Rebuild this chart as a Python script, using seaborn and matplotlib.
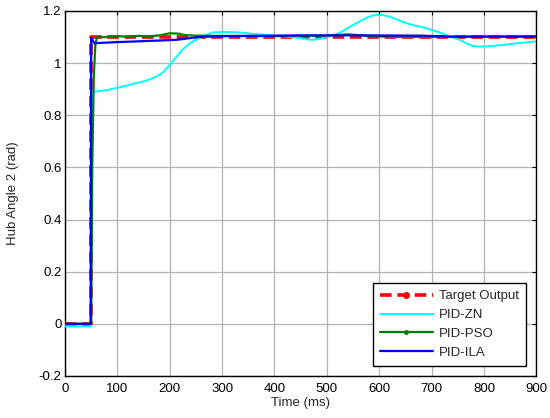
import numpy as np
import pandas as pd
import matplotlib
matplotlib.use("Agg")
import matplotlib.pyplot as plt
from matplotlib.lines import Line2D
import seaborn as sns

# Step reference
target_t = [0, 50, 50, 900]
target_y = [0.0, 0.0, 1.1, 1.1]

# Ziegler-Nichols tuned PID response
zn_t = [0, 49, 52, 60, 80, 97, 115, 130, 145, 160, 175, 185, 192, 205, 215,
        224, 240, 256, 270, 281, 300, 326, 345, 364, 400, 425, 447, 460, 472,
        488, 504, 517, 529, 545, 562, 578, 593, 606, 619, 635, 651, 670, 689,
        708, 727, 740, 753, 765, 778, 790, 804, 830, 855, 880, 900]
zn_y = [-0.01, -0.01, 0.89, 0.891, 0.896, 0.904, 0.912, 0.92, 0.927, 0.936,
        0.949, 0.961, 0.974, 1.006, 1.029, 1.051, 1.078, 1.095, 1.108, 1.117,
        1.119, 1.118, 1.115, 1.111, 1.105, 1.101, 1.096, 1.091, 1.089, 1.093,
        1.102, 1.11, 1.121, 1.14, 1.159, 1.176, 1.185, 1.184, 1.178, 1.166,
        1.153, 1.143, 1.134, 1.122, 1.108, 1.098, 1.089, 1.077, 1.066, 1.063,
        1.064, 1.068, 1.074, 1.079, 1.083]

# PSO tuned PID response
pso_t = [0, 50, 52, 55, 58, 61, 80, 100, 120, 140, 160, 180, 200, 215, 230,
         250, 300, 400, 500, 540, 580, 620, 700, 800, 900]
pso_y = [0.0, 0.0, 0.6, 0.95, 1.07, 1.098, 1.1, 1.103, 1.101, 1.104, 1.102,
         1.106, 1.114, 1.113, 1.107, 1.105, 1.104, 1.103, 1.105, 1.11, 1.104,
         1.1, 1.1, 1.102, 1.103]

# ILA tuned PID response
ila_t = [0, 49, 50, 56, 97, 150, 213, 256, 300, 450, 560, 680, 740, 900]
ila_y = [0.0, 0.0, 1.097, 1.076, 1.08, 1.084, 1.089, 1.1, 1.103, 1.106,
         1.106, 1.105, 1.101, 1.101]

x_ticks = [0, 100, 200, 300, 400, 500, 600, 700, 800, 900]
y_ticks = [-0.2, 0, 0.2, 0.4, 0.6, 0.8, 1, 1.2]
y_tick_labels = ["-0.2", "0", "0.2", "0.4", "0.6", "0.8", "1", "1.2"]

sns.set_style("white")
plt.rcParams["font.family"] = ["Liberation Sans", "DejaVu Sans"]

fig = plt.figure(figsize=(5.5, 4.18), dpi=100)
ax = fig.add_axes([0.1182, 0.1005, 0.857, 0.8735])

series = [
    ("PID-ZN", zn_t, zn_y, "#00ffff", "-", 1.4),
    ("PID-PSO", pso_t, pso_y, "#008000", "-", 1.6),
    ("PID-ILA", ila_t, ila_y, "#0000ff", "-", 1.6),
]

df_target = pd.DataFrame({"t": target_t, "y": target_y})
sns.lineplot(data=df_target, x="t", y="y", ax=ax, color="#ff0000",
             linestyle=(0, (3.2, 1.6)), linewidth=2.6, sort=False,
             estimator=None, zorder=3)
for name, t, y, c, ls, lw in series:
    d = pd.DataFrame({"t": t, "y": y})
    sns.lineplot(data=d, x="t", y="y", ax=ax, color=c, linestyle=ls,
                 linewidth=lw, sort=False, estimator=None, zorder=4)

ax.set_xlim(0, 900)
ax.set_ylim(-0.2, 1.2)
ax.set_xticks(x_ticks)
ax.set_yticks(y_ticks)
ax.set_yticklabels(y_tick_labels)
ax.grid(True, color="#b4b4b4", linewidth=0.9, linestyle="-")
ax.set_axisbelow(True)
for s in ax.spines.values():
    s.set_visible(True)
    s.set_color("black")
    s.set_linewidth(1.0)
ax.tick_params(direction="in", length=3, width=0.8, top=True, right=True,
               labelsize=9.5, colors="black")
ax.tick_params(axis="x", pad=5)
ax.tick_params(axis="y", pad=2.5)
ax.set_xlabel("Time (ms)", fontsize=9.5, labelpad=1.5)
ax.set_ylabel("Hub Angle 2 (rad)", fontsize=9.5)
ax.yaxis.set_label_coords(-0.097, 0.5)

handles = [
    Line2D([], [], color="#ff0000", linestyle=(0, (3.2, 1.6)), linewidth=2.6,
           marker="o", markersize=4),
    Line2D([], [], color="#00ffff", linewidth=1.4),
    Line2D([], [], color="#008000", linewidth=1.6, marker="o", markersize=2.5),
    Line2D([], [], color="#0000ff", linewidth=1.6),
]
labels = ["Target Output", "PID-ZN", "PID-PSO", "PID-ILA"]
leg = ax.legend(handles, labels, loc="lower right",
                bbox_to_anchor=(0.979, 0.027), fontsize=9.5, frameon=True,
                fancybox=False, framealpha=1, edgecolor="black",
                handlelength=4.0, handletextpad=0.5, borderpad=0.55,
                labelspacing=0.5, borderaxespad=0)
leg.get_frame().set_linewidth(1.0)

fig.savefig("out.png", dpi=100)
